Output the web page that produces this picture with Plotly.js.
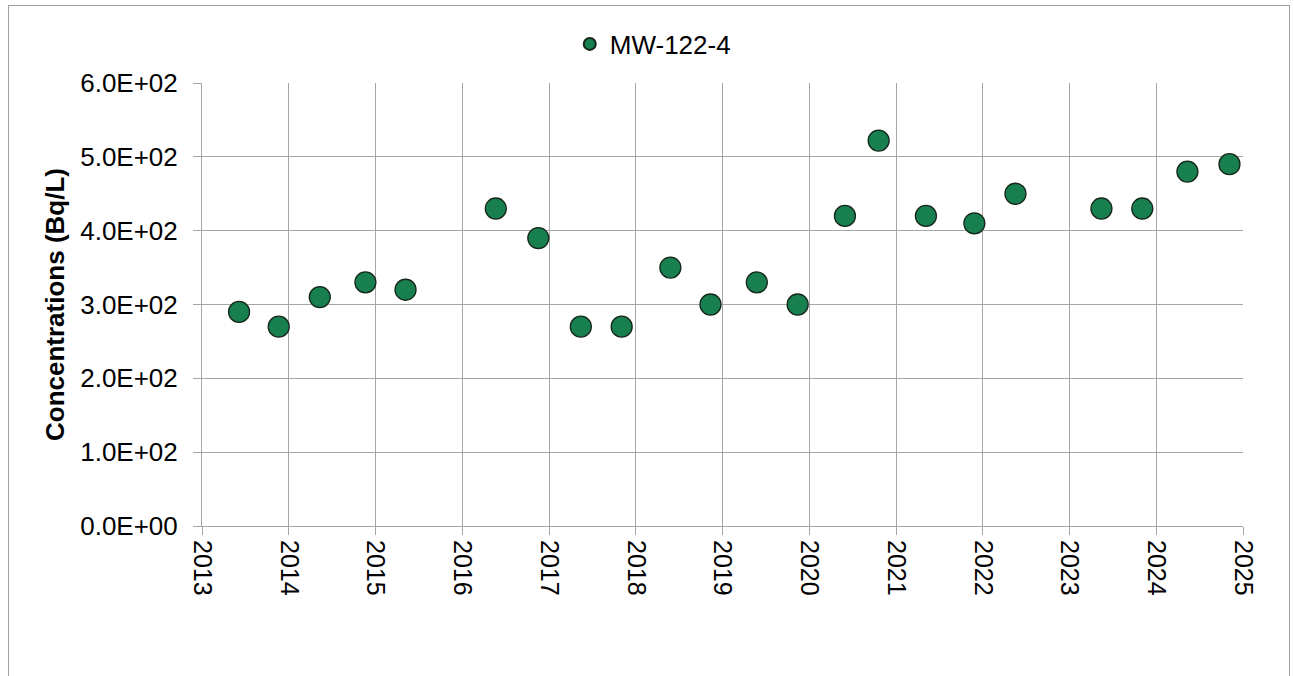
<!DOCTYPE html>
<html>
<head>
<meta charset="utf-8">
<script src="https://cdn.plot.ly/plotly-3.0.1.min.js"></script>
<style>
  html, body { margin: 0; padding: 0; background: #fff; }
  #wrap { position: relative; width: 1294px; height: 676px; }
  #chart { width: 1294px; height: 676px; }
  #frame { position: absolute; left: 8px; top: 5px; width: 1280px; height: 700px; border: 1px solid #a0a0a0; pointer-events: none; }
</style>
</head>
<body>
<div id="wrap">
  <div id="chart"></div>
  <div id="frame"></div>
</div>
<script>
const seriesName = "MW-122-4";
const sampleDates = [
  "2013-06-06", "2013-11-20", "2014-05-12", "2014-11-20", "2015-05-08",
  "2016-05-22", "2016-11-17", "2017-05-15", "2017-11-03", "2018-05-27",
  "2018-11-12", "2019-05-26", "2019-11-14", "2020-05-31", "2020-10-20",
  "2021-05-07", "2021-11-27", "2022-05-19", "2023-05-16", "2023-11-04",
  "2024-05-12", "2024-11-05"
];
const concentrations = [
  290, 270, 310, 330, 320,
  430, 390, 270, 270, 350,
  300, 330, 300, 420, 522,
  420, 410, 450, 430, 430,
  480, 490
];
const yTickVals = [0, 100, 200, 300, 400, 500, 600];
const yTickText = ["0.0E+00", "1.0E+02", "2.0E+02", "3.0E+02", "4.0E+02", "5.0E+02", "6.0E+02"];
const xTickVals = ["2013-01-01","2014-01-01","2015-01-01","2016-01-01","2017-01-01","2018-01-01","2019-01-01","2020-01-01","2021-01-01","2022-01-01","2023-01-01","2024-01-01","2025-01-01"];
const xTickText = ["2013","2014","2015","2016","2017","2018","2019","2020","2021","2022","2023","2024","2025"];

const font = "Liberation Sans, Arial, sans-serif";
const trace = {
  type: "scatter",
  mode: "markers",
  name: seriesName,
  x: sampleDates,
  y: concentrations,
  marker: { size: 21, color: "#17804e", line: { color: "#15261b", width: 1.3 } },
  showlegend: true
};
const layout = {
  width: 1294, height: 676,
  margin: { l: 202, r: 51, t: 83, b: 150 },
  paper_bgcolor: "#ffffff", plot_bgcolor: "#ffffff",
  font: { family: font, size: 25, color: "#000" },
  xaxis: {
    type: "date",
    range: ["2013-01-01", "2025-01-01"],
    tickvals: xTickVals, ticktext: xTickText,
    tickangle: 90,
    showgrid: true, gridcolor: "#a6a6a6", gridwidth: 1,
    ticks: "outside", ticklen: 8, tickcolor: "#a6a6a6",
    showline: true, linecolor: "#a6a6a6", linewidth: 1,
    zeroline: false, mirror: false,
    tickfont: { family: font, size: 25, color: "#000" }
  },
  yaxis: {
    range: [0, 600],
    tickvals: yTickVals, ticktext: yTickText,
    showgrid: true, gridcolor: "#a6a6a6", gridwidth: 1,
    ticks: "outside", ticklen: 8, tickcolor: "#a6a6a6",
    ticklabelstandoff: 10,
    showline: true, linecolor: "#a6a6a6", linewidth: 1,
    zeroline: false,
    tickfont: { family: font, size: 26, color: "#000" },
    title: { text: "<b>Concentrations (Bq/L)</b>", font: { family: font, size: 26, color: "#000" }, standoff: 8 }
  },
  showlegend: true,
  legend: {
    orientation: "h",
    x: 0.433, xanchor: "center",
    y: 1.088, yanchor: "middle",
    font: { family: font, size: 26, color: "#000" },
    itemsizing: "constant",
    itemwidth: 30,
    bgcolor: "rgba(0,0,0,0)"
  }
};
Plotly.newPlot("chart", [trace], layout, { staticPlot: true, displayModeBar: false });
</script>
</body>
</html>
